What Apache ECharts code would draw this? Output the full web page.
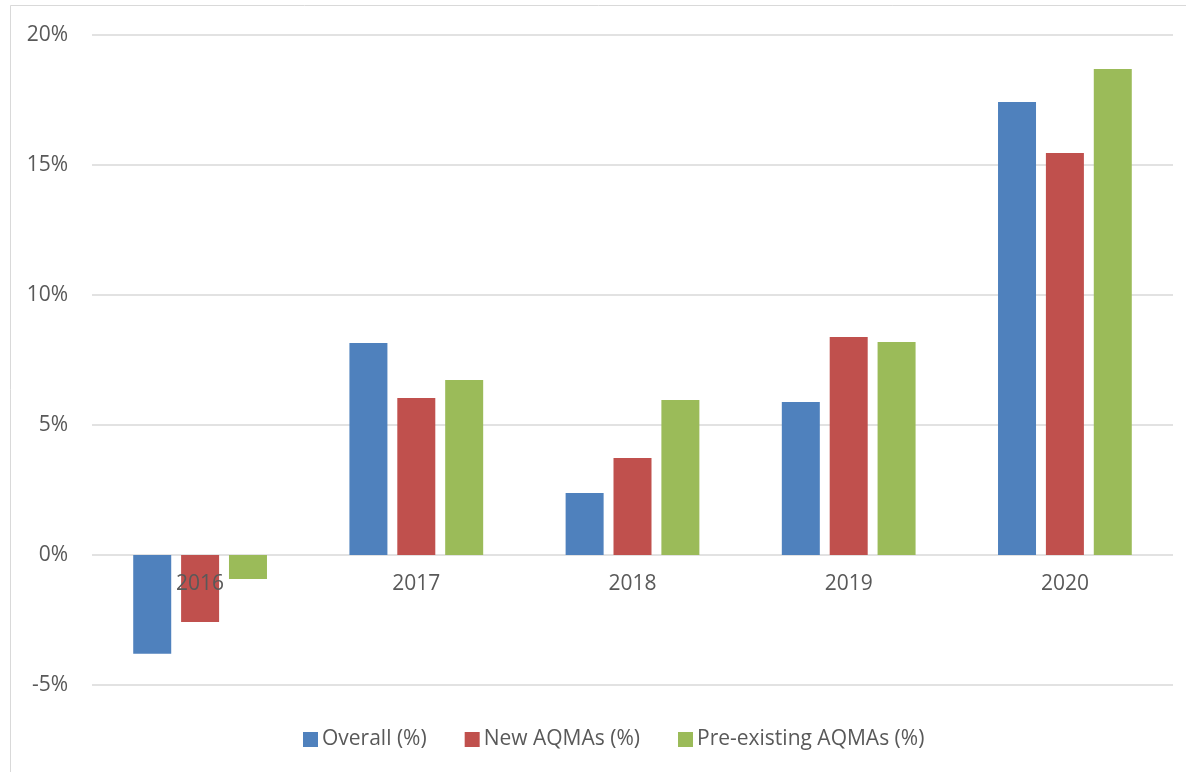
<!DOCTYPE html>
<html>
<head>
<meta charset="utf-8">
<script src="https://cdn.jsdelivr.net/npm/echarts@6/dist/echarts.min.js"></script>
<style>
html,body{margin:0;padding:0;background:#fff;}
#chart{width:1186px;height:772px;}
</style>
</head>
<body>
<div id="chart"></div>
<script>
const categories = ['2016', '2017', '2018', '2019', '2020'];
const overall = [-3.8, 8.15, 2.38, 5.88, 17.42];
const newAQMAs = [-2.58, 6.04, 3.73, 8.38, 15.46];
const preExisting = [-0.92, 6.73, 5.96, 8.19, 18.69];
const seriesNames = ['Overall (%)', 'New AQMAs (%)', 'Pre-existing AQMAs (%)'];
const colors = ['#4F81BD', '#C0504D', '#9BBB59'];
const yMin = -5, yMax = 20, yStep = 5;

const FONT = '"Open Sans", "Liberation Sans", sans-serif';
const TEXT = '#595959';
const W = 1186, H = 772;
const GRID = {left: 92, right: 13, top: 35, bottom: 87};
const gridH = H - GRID.top - GRID.bottom;
// move the category axis (and its labels) up to the zero line
const zeroOffset = -((0 - yMin) / (yMax - yMin)) * gridH;

const chart = echarts.init(document.getElementById('chart'), null, {renderer: 'canvas'});
const mk = (name, data, color) => ({
  name: name,
  type: 'bar',
  data: data,
  barWidth: 38,
  barGap: '26%',
  z: 2,
  itemStyle: {color: color},
  emphasis: {disabled: true}
});
chart.setOption({
  animation: false,
  backgroundColor: '#ffffff',
  graphic: [{
    type: 'rect',
    shape: {x: 10.5, y: 5.5, width: 1200, height: 800},
    style: {fill: 'none', stroke: '#d9d9d9', lineWidth: 1},
    silent: true,
    z: -1
  }],
  grid: Object.assign({containLabel: false}, GRID),
  legend: {
    left: 298,
    top: 724,
    itemWidth: 15,
    itemHeight: 15,
    itemGap: 38,
    icon: 'rect',
    textStyle: {fontFamily: FONT, fontSize: 21, color: TEXT, padding: [0, 0, 0, -1]},
    data: seriesNames
  },
  xAxis: {
    type: 'category',
    position: 'bottom',
    offset: zeroOffset,
    z: 10,
    data: categories,
    axisLine: {show: false, onZero: false},
    axisTick: {show: false},
    axisLabel: {fontFamily: FONT, fontSize: 21, color: TEXT, margin: 19},
    splitLine: {show: false}
  },
  yAxis: {
    type: 'value',
    min: yMin,
    max: yMax,
    interval: yStep,
    axisLine: {show: false, onZero: false},
    axisTick: {show: false},
    axisLabel: {fontFamily: FONT, fontSize: 21, color: TEXT, margin: 24, formatter: v => v + '%'},
    splitLine: {lineStyle: {color: '#d9d9d9', width: 1.5}}
  },
  series: [
    mk(seriesNames[0], overall, colors[0]),
    mk(seriesNames[1], newAQMAs, colors[1]),
    mk(seriesNames[2], preExisting, colors[2])
  ]
});
</script>
</body>
</html>
